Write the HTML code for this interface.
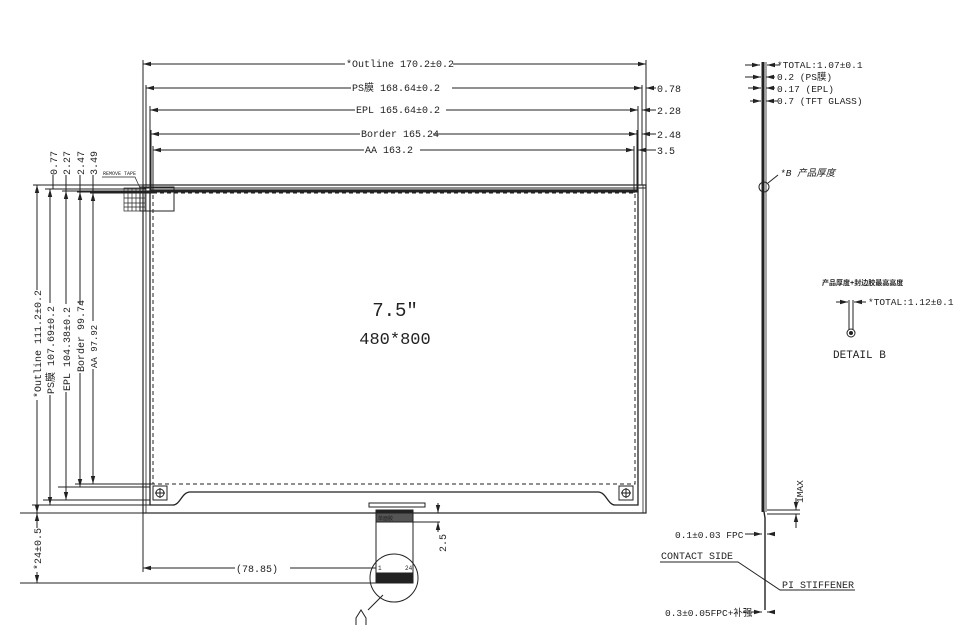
<!DOCTYPE html>
<html><head><meta charset="utf-8"><style>
html,body{margin:0;padding:0;background:#fff;}
svg{display:block}
text{font-family:"Liberation Mono","Noto Sans CJK SC",monospace;fill:#222;}
</style></head><body>
<svg width="965" height="642" viewBox="0 0 965 642" xmlns="http://www.w3.org/2000/svg">
<defs>
<marker id="a" markerWidth="8" markerHeight="6" refX="8" refY="3" orient="auto-start-reverse" markerUnits="userSpaceOnUse"><path d="M0,0.8 L8,3 L0,5.2Z" fill="#222"/></marker>
</defs>
<g stroke="#222" fill="none" stroke-width="1">
<rect x="143" y="185" width="503" height="328" stroke-width="1.2"/>
<line x1="143" y1="188" x2="646" y2="188"/>
<line x1="146" y1="185" x2="146" y2="513" stroke-width="0.8"/>
<line x1="643" y1="185" x2="643" y2="513" stroke-width="0.8"/>
<path d="M150,190 H638 V505 H615 C608,505 606,492 598,492 H190 C182,492 180,505 173,505 H150 Z" stroke-width="1.3"/>
<rect x="153" y="193" width="482" height="291" stroke-dasharray="4,3"/>
<line x1="150" y1="191.5" x2="638" y2="191.5" stroke-width="2"/>
<rect x="153" y="486" width="14" height="14"/><circle cx="160" cy="493" r="4"/><line x1="155" y1="493" x2="165" y2="493"/><line x1="160" y1="488" x2="160" y2="498"/>
<rect x="619" y="486" width="14" height="14"/><circle cx="626" cy="493" r="4"/><line x1="621" y1="493" x2="631" y2="493"/><line x1="626" y1="488" x2="626" y2="498"/>
<rect x="140" y="187" width="34" height="24"/>
<g stroke-width="0.7">
<rect x="124" y="188" width="21" height="23"/>
<line x1="128" y1="188" x2="128" y2="211"/><line x1="132" y1="188" x2="132" y2="211"/><line x1="136" y1="188" x2="136" y2="211"/><line x1="140" y1="188" x2="140" y2="211"/>
<line x1="124" y1="193" x2="145" y2="193"/><line x1="124" y1="198" x2="145" y2="198"/><line x1="124" y1="203" x2="145" y2="203"/><line x1="124" y1="207" x2="145" y2="207"/>
<path d="M102,177 H135 L140,188"/>
</g>
<line x1="143" y1="60" x2="143" y2="185"/>
<line x1="146" y1="85" x2="146" y2="185"/>
<line x1="150" y1="106" x2="150" y2="190"/>
<line x1="151" y1="130" x2="151" y2="190"/>
<line x1="153" y1="146" x2="153" y2="193"/>
<line x1="646" y1="60" x2="646" y2="185"/>
<line x1="642" y1="85" x2="642" y2="185"/>
<line x1="638" y1="106" x2="638" y2="190"/>
<line x1="637" y1="130" x2="637" y2="190"/>
<line x1="634" y1="146" x2="634" y2="193"/>
<line x1="143" y1="64" x2="345" y2="64" marker-start="url(#a)"/><line x1="453" y1="64" x2="646" y2="64" marker-end="url(#a)"/>
<line x1="146" y1="88" x2="351" y2="88" marker-start="url(#a)"/><line x1="452" y1="88" x2="642" y2="88" marker-end="url(#a)"/><line x1="646" y1="88" x2="656" y2="88" marker-start="url(#a)"/>
<line x1="150" y1="110" x2="355" y2="110" marker-start="url(#a)"/><line x1="446" y1="110" x2="638" y2="110" marker-end="url(#a)"/><line x1="642" y1="110" x2="656" y2="110" marker-start="url(#a)"/>
<line x1="151" y1="134" x2="360" y2="134" marker-start="url(#a)"/><line x1="433" y1="134" x2="637" y2="134" marker-end="url(#a)"/><line x1="642" y1="134" x2="656" y2="134" marker-start="url(#a)"/>
<line x1="153" y1="150" x2="364" y2="150" marker-start="url(#a)"/><line x1="420" y1="150" x2="634" y2="150" marker-end="url(#a)"/><line x1="638" y1="150" x2="656" y2="150" marker-start="url(#a)"/>
<line x1="33" y1="185" x2="143" y2="185"/>
<line x1="45" y1="189" x2="146" y2="189"/>
<line x1="62" y1="191" x2="150" y2="191"/>
<line x1="77" y1="192" x2="151" y2="192"/>
<line x1="90" y1="193" x2="153" y2="193"/>
<line x1="20" y1="513" x2="143" y2="513"/>
<line x1="32" y1="505" x2="150" y2="505"/>
<line x1="43" y1="500" x2="150" y2="500"/>
<line x1="58" y1="487" x2="150" y2="487"/>
<line x1="75" y1="484" x2="153" y2="484"/>
<line x1="37" y1="185" x2="37" y2="290" marker-start="url(#a)"/><line x1="37" y1="400" x2="37" y2="513" marker-end="url(#a)"/>
<line x1="50" y1="189" x2="50" y2="303" marker-start="url(#a)"/><line x1="50" y1="395" x2="50" y2="505" marker-end="url(#a)"/>
<line x1="66" y1="191" x2="66" y2="304" marker-start="url(#a)"/><line x1="66" y1="392" x2="66" y2="500" marker-end="url(#a)"/>
<line x1="80" y1="192" x2="80" y2="305" marker-start="url(#a)"/><line x1="80" y1="373" x2="80" y2="487" marker-end="url(#a)"/>
<line x1="93" y1="193" x2="93" y2="321" marker-start="url(#a)"/><line x1="93" y1="369" x2="93" y2="484" marker-end="url(#a)"/>
<line x1="53" y1="175" x2="53" y2="189"/><line x1="66" y1="175" x2="66" y2="191"/><line x1="80" y1="175" x2="80" y2="192"/><line x1="93" y1="175" x2="93" y2="193"/>
<line x1="37" y1="513" x2="37" y2="528" marker-start="url(#a)"/><line x1="37" y1="572" x2="37" y2="583" marker-end="url(#a)"/>
<line x1="20" y1="583" x2="376" y2="583"/>
<line x1="143" y1="513" x2="143" y2="572"/>
<line x1="143" y1="568" x2="235" y2="568" marker-start="url(#a)"/><line x1="290" y1="568" x2="376" y2="568"/>
<rect x="369" y="503" width="56" height="4"/>
<rect x="376" y="510" width="37" height="73"/>
<rect x="376" y="510" width="37" height="3" fill="#222"/>
<rect x="376" y="513" width="37" height="9" fill="#555"/>
<rect x="376" y="573" width="37" height="10" fill="#222"/>
<circle cx="394" cy="578" r="24"/>
<path d="M383,595 L368,610"/>
<path d="M356,625 V618 L361,610 L366,618 V625"/>
<line x1="413" y1="513" x2="440" y2="513"/><line x1="413" y1="522" x2="440" y2="522"/>
<line x1="438" y1="503" x2="438" y2="513" marker-end="url(#a)"/><line x1="438" y1="532" x2="438" y2="522" marker-end="url(#a)"/>
<line x1="763" y1="62" x2="763" y2="512" stroke-width="3"/>
<line x1="766" y1="62" x2="766" y2="512" stroke-width="0.8"/>
<path d="M763,505 L765,518 V610" stroke-width="1.4"/>
<line x1="767" y1="510" x2="800" y2="510"/><line x1="767" y1="514" x2="800" y2="514"/>
<line x1="796" y1="498" x2="796" y2="510" marker-end="url(#a)"/><line x1="796" y1="528" x2="796" y2="514" marker-end="url(#a)"/>
<line x1="745" y1="65" x2="760" y2="65" marker-end="url(#a)"/><line x1="780" y1="65" x2="767" y2="65" marker-end="url(#a)"/>
<line x1="745" y1="77" x2="761" y2="77" marker-end="url(#a)"/><line x1="775" y1="77" x2="766" y2="77" marker-end="url(#a)"/>
<line x1="748" y1="88" x2="761" y2="88" marker-end="url(#a)"/><line x1="775" y1="88" x2="766" y2="88" marker-end="url(#a)"/>
<line x1="750" y1="101" x2="761" y2="101" marker-end="url(#a)"/><line x1="778" y1="101" x2="766" y2="101" marker-end="url(#a)"/>
<circle cx="764" cy="187" r="5"/><line x1="768" y1="183" x2="778" y2="175"/>
<line x1="745" y1="534" x2="762" y2="534" marker-end="url(#a)"/><line x1="775" y1="534" x2="767" y2="534" marker-end="url(#a)"/>
<line x1="743" y1="612" x2="762" y2="612" marker-end="url(#a)"/><line x1="775" y1="612" x2="767" y2="612" marker-end="url(#a)"/>
<path d="M660,562 H738 L780,590 H855"/>
<line x1="849" y1="300" x2="849" y2="330"/><line x1="853" y1="300" x2="853" y2="330"/>
<circle cx="851" cy="333" r="4"/>
<line x1="836" y1="302" x2="848" y2="302" marker-end="url(#a)"/><line x1="866" y1="302" x2="854" y2="302" marker-end="url(#a)"/>
</g>
<circle cx="851" cy="333" r="2" fill="#222"/>
<g font-size="10">
<text x="346" y="67">*Outline 170.2±0.2</text>
<text x="352" y="91">PS膜 168.64±0.2</text>
<text x="356" y="113">EPL 165.64±0.2</text>
<text x="361" y="137">Border 165.24</text>
<text x="365" y="153">AA 163.2</text>
<text x="657" y="92" font-family="Liberation Sans">0.78</text>
<text x="657" y="114" font-family="Liberation Sans">2.28</text>
<text x="657" y="138" font-family="Liberation Sans">2.48</text>
<text x="657" y="154" font-family="Liberation Sans">3.5</text>
<g font-family="Liberation Sans">
<text transform="translate(57,175) rotate(-90)">0.77</text>
<text transform="translate(70,175) rotate(-90)">2.27</text>
<text transform="translate(84,175) rotate(-90)">2.47</text>
<text transform="translate(97,175) rotate(-90)">3.49</text>
<text transform="translate(446,552) rotate(-90)">2.5</text>
<text transform="translate(41,570) rotate(-90)">*24±0.5</text>
<text x="236" y="572">(78.85)</text>
</g>
<text transform="translate(41,398) rotate(-90)">*Outline 111.2±0.2</text>
<text transform="translate(54,394) rotate(-90)">PS膜 107.69±0.2</text>
<text transform="translate(70,391) rotate(-90)">EPL 104.38±0.2</text>
<text transform="translate(84,372) rotate(-90)">Border 99.74</text>
<text transform="translate(97,368) rotate(-90)" font-size="9">AA 97.92</text>
<text x="103" y="175" font-size="5">REMOVE TAPE</text>
<text x="378" y="520" font-size="5" fill="#fff">单面胶</text>
<text x="378" y="570" font-size="6">1</text><text x="405" y="570" font-size="6">24</text>
</g>
<g font-family="Liberation Sans" fill="#333">
<text x="395" y="316" font-size="19" text-anchor="middle" font-weight="300">7.5″</text>
<text x="395" y="344" font-size="17" text-anchor="middle">480*800</text>
</g>
<g font-family="Liberation Sans" font-size="9.5">
<text x="777" y="68">*TOTAL:1.07±0.1</text>
<text x="777" y="80">0.2 (PS膜)</text>
<text x="777" y="92">0.17 (EPL)</text>
<text x="777" y="104">0.7 (TFT GLASS)</text>
<text x="780" y="176" font-style="italic">*B 产品厚度</text>
<text x="822" y="285" font-size="7" font-weight="bold">产品厚度+封边胶最高高度</text>
<text x="868" y="305">*TOTAL:1.12±0.1</text>
<text x="833" y="358" font-size="11">DETAIL B</text>
<text transform="translate(803,503) rotate(-90)">1MAX</text>
<text x="675" y="538">0.1±0.03 FPC</text>
<text x="661" y="559" font-size="10">CONTACT SIDE</text>
<text x="782" y="588" font-size="10">PI STIFFENER</text>
<text x="665" y="616">0.3±0.05FPC+补强</text>
</g>
</svg>
</body></html>
